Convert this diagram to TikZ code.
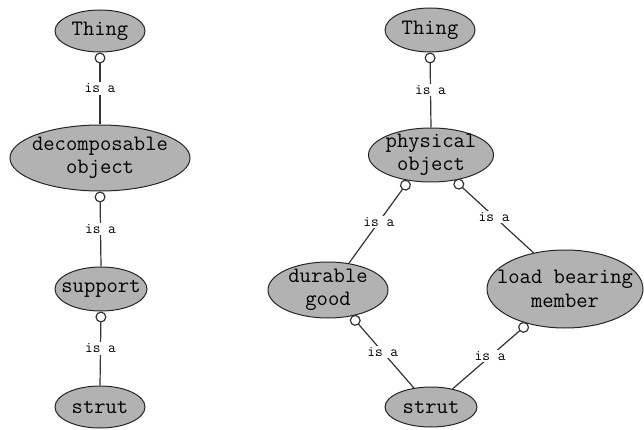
\documentclass[tikz,border=0pt]{standalone}
\usetikzlibrary{shapes.geometric,arrows.meta}
\definecolor{entfill}{RGB}{178,178,178}
\begin{document}
\begin{tikzpicture}[x=1pt,y=-1pt,
  ent/.style={ellipse, draw=black!85, line width=1pt, fill=entfill, inner sep=0pt},
  etxt/.style={font=\ttfamily\fontsize{22}{23.5}\selectfont, align=center, inner sep=0pt},
  isa/.style={draw=black!80, line width=1.2pt, {Circle[open,length=11pt,width=11pt,line width=1.2pt]}-},
  lbl/.style={fill=white, inner sep=1.5pt, font=\ttfamily\fontsize{15}{15}\selectfont}]
\useasboundingbox (0,0) rectangle (644,430);
% left tree
\node[ent, minimum width=90, minimum height=42, label={[etxt]center:Thing}] (t1) at (100,31) {};
\node[ent, minimum width=180, minimum height=66, label={[etxt]center:decomposable\\object}] (d1) at (100,158) {};
\node[ent, minimum width=92, minimum height=44, label={[etxt]center:support}] (s1) at (101,289) {};
\node[ent, minimum width=90, minimum height=42, label={[etxt]center:strut}] (u1) at (100,407) {};
% right tree
\node[ent, minimum width=90, minimum height=44, label={[etxt]center:Thing}] (t2) at (430,30) {};
\node[ent, minimum width=125, minimum height=54, label={[etxt]center:physical\\object}] (p2) at (431,155) {};
\node[ent, minimum width=120, minimum height=56, label={[etxt]center:durable\\good}] (g2) at (328,290) {};
\node[ent, minimum width=156, minimum height=78, label={[etxt]center:load bearing\\member}] (m2) at (565,289) {};
\node[ent, minimum width=92, minimum height=40, label={[etxt]center:strut}] (u2) at (431,407) {};
% connectors
\draw[isa] (t1.south) -- node[lbl] {is a} (d1.north);
\draw[isa] (d1.south) -- node[lbl] {is a} (s1.north);
\draw[isa] (s1.south) -- node[lbl] {is a} (u1.north);
\draw[isa] (t2.south) -- node[lbl] {is a} (p2.north);
\draw[isa] (p2.229) -- node[lbl] {is a} (g2.52);
\draw[isa] (p2.313) -- node[lbl] {is a} (m2.131);
\draw[isa] (g2.312) -- node[lbl] {is a} (u2.132);
\draw[isa] (m2.223) -- node[lbl] {is a} (u2.40);
\end{tikzpicture}
\end{document}
